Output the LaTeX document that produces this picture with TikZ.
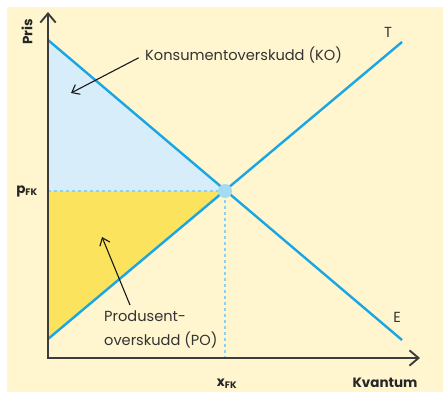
\documentclass[tikz,border=0pt]{standalone}
\usepackage{fontspec}
\setmainfont{Poppins}
\usetikzlibrary{arrows.meta,positioning}
\definecolor{cream}{HTML}{FFF5CF}
\definecolor{curveblue}{HTML}{1AA6E2}
\definecolor{kofill}{HTML}{D8EDFA}
\definecolor{pofill}{HTML}{FBE35E}
\definecolor{axisgray}{HTML}{3C3C3C}
\tikzset{
  axis/.style={draw=axisgray,line width=1.9pt,
    {Straight Barb[length=3.2mm,width=5.4mm]}-{Straight Barb[length=3.2mm,width=5.4mm]}},
  curve/.style={draw=curveblue,line width=2.4pt},
  guide/.style={draw=curveblue!50,dashed,line width=1.3pt},
  lbl/.style={font=\fontsize{14.6}{24}\selectfont,text=black!80,inner sep=1pt},
  axlbl/.style={font=\fontsize{13.5}{15}\selectfont\bfseries,text=black!85,inner sep=1pt},
  pointer/.style={-{Straight Barb[length=2.4mm,width=3.8mm]},line width=1.1pt,black!90}
}

\begin{document}
\begin{tikzpicture}[x=1pt,y=-1pt]
  \useasboundingbox (0,0) rectangle (443,392);
  \fill[cream] (7,7) rectangle (443,392);

  % axes and curve ends
  \coordinate (O) at (48,358);
  \coordinate (ytop) at (48,12);
  \coordinate (xend) at (420,358);
  \coordinate (Eleft) at (48,40);
  \coordinate (Eright) at (402,340);
  \coordinate (Tleft) at (48,339);
  \coordinate (Tright) at (402,42);
  \coordinate (eq) at (225,191);
  \coordinate (peq) at (48,191);
  \coordinate (xeq) at (225,358);

  % surplus areas
  \fill[kofill] (Eleft) -- (eq) -- (peq) -- cycle;
  \fill[pofill] (peq) -- (eq) -- (Tleft) -- cycle;
  \draw[guide] (peq) -- (eq) -- (xeq);

  \draw[curve] (Eleft) -- (Eright);
  \draw[curve] (Tleft) -- (Tright);
  \fill[curveblue!40] (eq) circle (7);
  \draw[axis] (ytop) -- (O) -- (xend);

  % labels
  \node[axlbl,rotate=90] (pris) at (27,32) {Pris};
  \node[axlbl] (kvantum) at (385,383) {Kvantum};
  \node[axlbl] (pfk) at (27,191) {p\textsubscript{FK}};
  \node[axlbl] (xfk) at (227,384) {x\textsubscript{FK}};
  \node[lbl] (T) at (388,32) {T};
  \node[lbl] (E) at (397,317) {E};

  \node[lbl,anchor=west] (ko) at (144,55) {Konsumentoverskudd (KO)};
  \coordinate (kotip) at (71,93);
  \draw[pointer,shorten <=6pt] (ko.west) -- (kotip);

  \node[lbl,anchor=north west,align=left] (po) at (103,309) {Produsent-\\overskudd (PO)};
  \coordinate (potip) at (102,237);
  \draw[pointer] ([xshift=27pt,yshift=4pt]po.north west) -- (potip);
\end{tikzpicture}
\end{document}
